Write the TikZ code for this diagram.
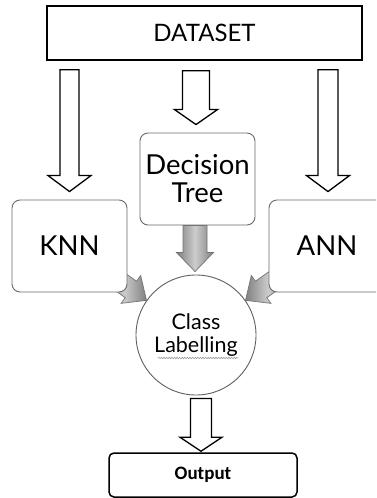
\documentclass[tikz,border=0pt]{standalone}
\usepackage{fontspec}
\setmainfont{Lato}
\newfontfamily\outfont{Carlito}
\usetikzlibrary{calc,decorations.pathmorphing}

% vertical hollow block arrow: #2 start point, #3 tip point,
% #4 shaft half width, #5 head half width, #6 head length (all pt)
\newcommand{\hollowdown}[6][]{%
  \draw[#1] let \p1=#2, \p2=#3 in
    (\x2-#4pt,\y1) -- (\x2-#4pt,\y2+#6pt) -- (\x2-#5pt,\y2+#6pt) -- (\x2,\y2)
    -- (\x2+#5pt,\y2+#6pt) -- (\x2+#4pt,\y2+#6pt) -- (\x2+#4pt,\y1) -- cycle;}

% slanted block arrow ending at point #2, turned by angle #3
\newcommand{\slantarrow}[3][]{%
  \draw[#1, shift={#2}, rotate=#3]
    (0,0) -- (-19,-17) -- (-19,-10) -- (-48,-10) -- (-48,10) -- (-19,10) -- (-19,17) -- cycle;}

\tikzset{
  databox/.style={draw=black, line width=1.6pt, fill=white,
    minimum width=315pt, minimum height=54pt, inner sep=0pt,
    font=\fontsize{24}{28}\selectfont},
  algobox/.style={draw=black!58, line width=0.9pt, fill=white,
    rounded corners=8pt, minimum width=115pt, minimum height=92pt,
    inner sep=0pt, align=center, font=\fontsize{27.5}{28}\selectfont},
  labelcirc/.style={circle, draw=black!62, line width=0.9pt, fill=white,
    minimum size=120pt, inner sep=0pt, align=center,
    font=\fontsize{21.5}{23}\selectfont},
  outbox/.style={draw=black, line width=1.5pt, fill=white,
    rounded corners=5pt, minimum width=188pt, minimum height=44pt,
    inner sep=0pt, font=\outfont\bfseries\fontsize{19}{22}\selectfont},
  hollow/.style={draw=black, line width=1.3pt, fill=white, line join=miter},
  grayarrow/.style={draw=black!55, line width=0.7pt,
    left color=black!50, right color=black!50, middle color=black!20},
  squiggle/.style={draw=black!40, line width=0.6pt, decorate,
    decoration={snake, amplitude=0.7pt, segment length=2.6pt}}
}

\begin{document}
\begin{tikzpicture}[x=1pt,y=-1pt]
\clip (0,0) rectangle (376,498);
\fill[white] (0,0) rectangle (376,498);

% central circle and the two slanted inputs running into it
\node[labelcirc] (lab) at (196,335) {Class\\Labelling};
\slantarrow[grayarrow]{(lab.145)}{-35}
\slantarrow[grayarrow]{(lab.35)}{-145}

% boxes
\node[databox] (data) at (204.5,33) {DATASET};
\node[algobox] (dt) at (197.5,179) {Decision\\Tree};
\node[algobox] (knn) at (69.5,246) {KNN};
\node[algobox, minimum width=116pt] (ann) at (327,246) {ANN};
\node[outbox] (out) at (203,475) {Output};

% spelling squiggle under the second word of the circle
\draw[squiggle] ($(lab.center)+(-38,23)$) -- ($(lab.center)+(42,23)$);

% hollow arrows from the dataset to the three classifiers
\hollowdown[hollow]{($(knn.north |- data.south)+(0,9)$)}{($(knn.north)+(0,-8)$)}{9.5}{21.5}{16}
\hollowdown[hollow]{($(dt.north |- data.south)+(-1.5,10)$)}{($(dt.north)+(-1.5,-8)$)}{13.5}{21.5}{15}
\hollowdown[hollow]{($(ann.north |- data.south)+(1,9)$)}{($(ann.north)+(1,-8)$)}{10}{21.5}{16}

% decision tree into the circle
\hollowdown[grayarrow]{(dt.south)}{($(lab.north)+(-1,-3)$)}{12}{18.5}{19}

% circle to output
\hollowdown[hollow]{($(lab.south)+(5,3)$)}{($(out.north)+(-2,-1)$)}{10.5}{21}{14}
\end{tikzpicture}
\end{document}
